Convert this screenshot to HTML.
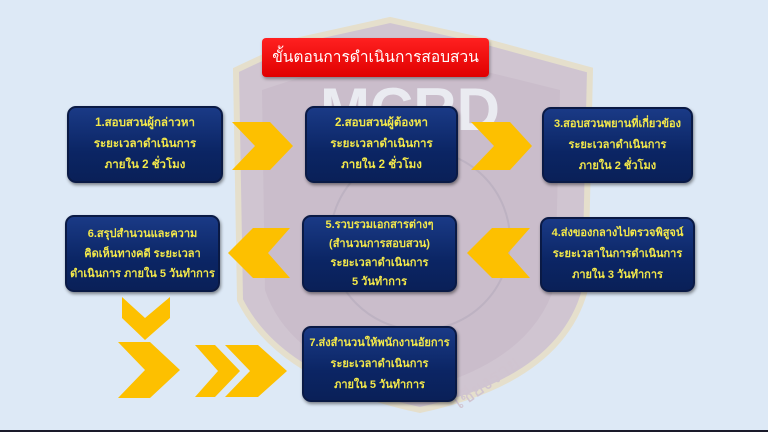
<!DOCTYPE html>
<html><head><meta charset="utf-8"><style>
html,body{margin:0;padding:0;}
body{width:768px;height:432px;overflow:hidden;background:#dde9f6;position:relative;font-family:"Liberation Sans","Noto Sans CJK SC",sans-serif;}
svg{position:absolute;left:0;top:0;}
.b{position:absolute;box-sizing:border-box;border-radius:9px;background:linear-gradient(#1a3a86,#0b2564 60%,#0a2058);border:2px solid #0a1a45;box-shadow:1px 2px 3px rgba(0,0,0,.45);color:#f3e84a;font-weight:bold;font-size:11.5px;text-align:center;display:flex;flex-direction:column;justify-content:center;line-height:21px;white-space:nowrap;font-family:"Liberation Sans","Noto Sans CJK SC",sans-serif;}
.t{position:absolute;left:262px;top:38px;width:227px;height:39px;background:linear-gradient(#ff2020,#e00000);border-radius:4px;box-shadow:1px 2px 3px rgba(0,0,0,.35);color:#fff;font-size:15.5px;text-align:center;line-height:39px;white-space:nowrap;}
</style></head><body>
<svg width="768" height="432">
<path d="M236 70 L300 40 L390 20 L480 40 L590 70 L585 290 Q560 380 420 410 Q280 380 240 300 Z" fill="#cfc2ce" stroke="#e6dfc8" stroke-width="6" opacity="0.9"/>
<path d="M262 90 L390 48 L560 90 L555 285 Q530 365 410 392 Q290 365 265 290 Z" fill="#c6b8c6" opacity="0.6"/>
<text x="320" y="130" font-family="Liberation Sans" font-weight="bold" font-size="60" fill="#eef0f6" opacity="0.9">MCRD</text>
<circle cx="420" cy="240" r="90" fill="none" stroke="#b8aebd" stroke-width="2" opacity="0.7"/>
<text x="450" y="400" font-family="Liberation Sans,Noto Sans CJK SC,sans-serif" font-size="20" fill="#d0c4d0" transform="rotate(-35 470 390)">เชียงราย</text>
<g fill="#fdc000">
<polygon points="232,122 270,122 293,146 270,170 232,170 255,146"/>
<polygon points="471,122 510,122 532,146 510,170 471,170 494,146"/>
<polygon points="290,228 253,228 228,253 253,278 290,278 268,253"/>
<polygon points="530,228 492,228 467,253 492,278 530,278 508,253"/>
<polygon points="122,297 145,318 170,297 170,318 145,340 122,318"/>
<polygon points="118,342 150,342 180,370 150,398 118,398 145,370"/>
<polygon points="195,345 215,345 240,371 215,397 195,397 218,371"/>
<polygon points="225,345 258,345 287,371 258,397 225,397 250,371"/>
</g>
<rect x="0" y="430" width="768" height="2" fill="#1a1a2a"/>
</svg>
<div class="t">ขั้นตอนการดำเนินการสอบสวน</div>
<div class="b" style="left:67px;top:106px;width:156px;height:77px">1.สอบสวนผู้กล่าวหา<br>ระยะเวลาดำเนินการ<br>ภายใน 2 ชั่วโมง</div>
<div class="b" style="left:305px;top:106px;width:153px;height:77px">2.สอบสวนผู้ต้องหา<br>ระยะเวลาดำเนินการ<br>ภายใน 2 ชั่วโมง</div>
<div class="b" style="left:542px;top:107px;width:151px;height:76px;font-size:11px">3.สอบสวนพยานที่เกี่ยวข้อง<br>ระยะเวลาดำเนินการ<br>ภายใน 2 ชั่วโมง</div>
<div class="b" style="left:65px;top:215px;width:155px;height:77px;line-height:20px;font-size:11px">6.สรุปสำนวนและความ<br>คิดเห็นทางคดี ระยะเวลา<br>ดำเนินการ ภายใน 5 วันทำการ</div>
<div class="b" style="left:302px;top:215px;width:155px;height:77px;line-height:19px;font-size:11px">5.รวบรวมเอกสารต่างๆ<br>(สำนวนการสอบสวน)<br>ระยะเวลาดำเนินการ<br>5 วันทำการ</div>
<div class="b" style="left:540px;top:217px;width:155px;height:75px;font-size:11px">4.ส่งของกลางไปตรวจพิสูจน์<br>ระยะเวลาในการดำเนินการ<br>ภายใน 3 วันทำการ</div>
<div class="b" style="left:302px;top:326px;width:155px;height:76px;font-size:11px">7.ส่งสำนวนให้พนักงานอัยการ<br>ระยะเวลาดำเนินการ<br>ภายใน 5 วันทำการ</div>
</body></html>
